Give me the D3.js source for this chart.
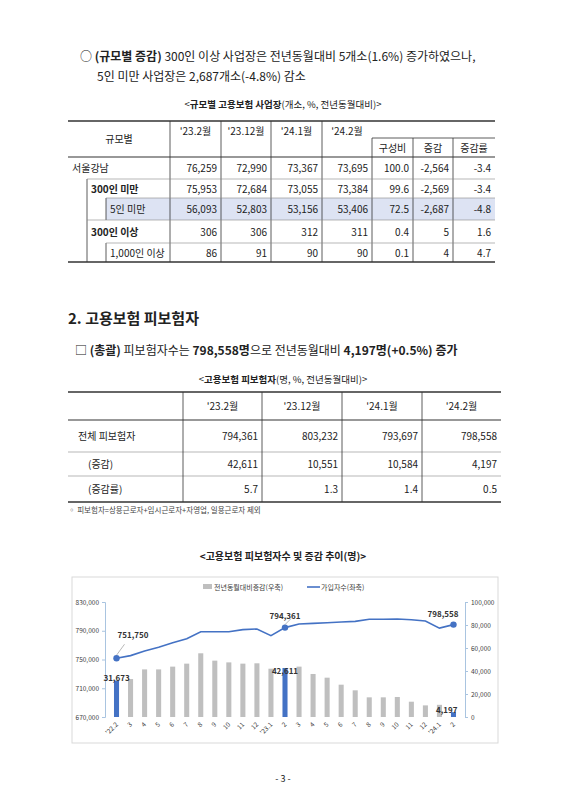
<!DOCTYPE html>
<html><head><meta charset="utf-8">
<script src="https://cdn.jsdelivr.net/npm/d3@7"></script>
<style>body{margin:0;background:#fff}svg{display:block}text{font-family:"Noto Sans CJK KR","Noto Sans",sans-serif}</style>
</head><body><svg id="s" width="566" height="800"></svg>
<script>
// ---- data ----
const t1Cols = ["'23.2월","'23.12월","'24.1월","'24.2월"];
const t1Sub = ["구성비","증감","증감률"];
const t1Rows = ["서울강남","300인 미만","5인 미만","300인 이상","1,000인 이상"];
const t1Vals = [
 ["76,259","72,990","73,367","73,695","100.0","-2,564","-3.4"],
 ["75,953","72,684","73,055","73,384","99.6","-2,569","-3.4"],
 ["56,093","52,803","53,156","53,406","72.5","-2,687","-4.8"],
 ["306","306","312","311","0.4","5","1.6"],
 ["86","91","90","90","0.1","4","4.7"]];
const t2Cols = ["'23.2월","'23.12월","'24.1월","'24.2월"];
const t2Rows = ["전체 피보험자","(증감)","(증감률)"];
const t2Vals = [["794,361","803,232","793,697","798,558"],["42,611","10,551","10,584","4,197"],["5.7","1.3","1.4","0.5"]];
const months = ["'22.2","3","4","5","6","7","8","9","10","11","12","'23.1","2","3","4","5","6","7","8","9","10","11","12","'24.1","2"];
const insured = [751750,755400,761800,767000,773400,779000,788700,788700,788700,791500,792400,783200,794361,799400,800300,801200,802200,803100,805900,805900,806400,805400,803600,793697,798558];
const change = [31673,33000,41400,41400,43800,46400,55400,49000,47500,46400,46700,42000,42611,43800,37400,34200,28100,23200,17100,17100,17400,13300,10100,10584,4197];
const leftTicks = [670000,710000,750000,790000,830000];
const rightTicks = [0,20000,40000,60000,80000,100000];
const highlight = [0,12,24];

const svg = d3.select("#s");
const T = (x,y,s,o={})=>{const e=svg.append("text").attr("x",x).attr("y",y).text(s)
 .attr("font-size",o.fs||10).attr("text-anchor",o.a||"start").attr("fill",o.c||"#222").attr("font-weight",o.w||"normal");return e;};
const L = (x1,y1,x2,y2,w=0.8,c="#333")=>svg.append("line").attr("x1",x1).attr("y1",y1).attr("x2",x2).attr("y2",y2).attr("stroke",c).attr("stroke-width",w);

// intro text
const p1 = svg.append("text").attr("x",80).attr("y",61).attr("font-size",12).attr("fill","#222");
p1.append("tspan").text("○ ");
p1.append("tspan").attr("font-weight","bold").text("(규모별 증감)");
p1.append("tspan").text(" 300인 이상 사업장은 전년동월대비 5개소(1.6%) 증가하였으나,");
T(97,81,"5인 미만 사업장은 2,687개소(-4.8%) 감소",{fs:12});
const tt1 = svg.append("text").attr("x",283).attr("y",108).attr("text-anchor","middle").attr("font-size",9.5).attr("fill","#222");
tt1.append("tspan").text("<");tt1.append("tspan").attr("font-weight","bold").text("규모별 고용보험 사업장");tt1.append("tspan").text("(개소, %, 전년동월대비)>");

// table 1
const c1 = [68,170,221,271,322,372,413,453,495];
const r1 = [157,179,198,220,243,262];
svg.append("rect").attr("x",106).attr("y",r1[2]).attr("width",495-106).attr("height",r1[3]-r1[2]).attr("fill","#dde3f3");
L(68,121,495,121,1.5);L(68,157,495,157,1.2);L(68,262,495,262,1.5);
[1,2,3,4].forEach(i=>L(c1[i],121,c1[i],262));
[5,6,7].forEach(i=>L(c1[i],138,c1[i],262));
L(372,138,495,138);
L(87,179,87,262); L(106,r1[2],106,r1[3]); L(106,r1[4],106,r1[5]);
L(87,179,495,179,0.6,"#888");L(106,198,495,198,0.6,"#888");L(87,220,495,220,0.6,"#888");L(106,243,495,243,0.6,"#888");
T(119,143,"규모별",{fs:10,a:"middle"});
t1Cols.forEach((s,i)=>T((c1[i+1]+c1[i+2])/2,143-8,s,{fs:10,a:"middle"}));
t1Sub.forEach((s,i)=>T((c1[i+5]+c1[i+6])/2,152,s,{fs:10,a:"middle"}));
const rx=[72,91,110,91,110], bold=[false,true,false,true,false];
t1Rows.forEach((s,r)=>{const y=(r1[r]+r1[r+1])/2+4;
 T(rx[r],y,s,{fs:10,w:bold[r]?"bold":"normal"});
 t1Vals[r].forEach((v,j)=>T(c1[j+2]-4,y,v,{fs:10,a:"end"}));});

// section 2
T(68,324,"2. 고용보험 피보험자",{fs:15,w:"bold"});
const p2 = svg.append("text").attr("x",75).attr("y",355).attr("font-size",12).attr("fill","#222");
p2.append("tspan").text("□ ");p2.append("tspan").attr("font-weight","bold").text("(총괄)");
p2.append("tspan").text(" 피보험자수는 ");p2.append("tspan").attr("font-weight","bold").text("798,558명");
p2.append("tspan").text("으로 전년동월대비 ");p2.append("tspan").attr("font-weight","bold").text("4,197명(+0.5%) ");
p2.append("tspan").attr("font-weight","bold").text("증가");
const tt2 = svg.append("text").attr("x",283).attr("y",383).attr("text-anchor","middle").attr("font-size",9.5).attr("fill","#222");
tt2.append("tspan").text("<");tt2.append("tspan").attr("font-weight","bold").text("고용보험 피보험자");tt2.append("tspan").text("(명, %, 전년동월대비)>");
const c2=[68,183,262,342,422,501], r2=[420,452,476,502];
L(68,392,501,392,1.5);L(68,420,501,420,1.2);L(68,502,501,502,1.5);
L(68,452,501,452,0.6,"#888");L(68,476,501,476,0.6,"#888");
[1,2,3,4].forEach(i=>L(c2[i],392,c2[i],502));
t2Cols.forEach((s,i)=>T((c2[i+1]+c2[i+2])/2,410,s,{fs:10,a:"middle"}));
const r2x=[78,88,88];
t2Rows.forEach((s,r)=>{const y=(r2[r]+r2[r+1])/2+4;T(r2x[r],y,s,{fs:10});
 t2Vals[r].forEach((v,j)=>T(c2[j+2]-4,y,v,{fs:10,a:"end"}));});
T(68,513,"◦ 피보험자=상용근로자+임시근로자+자영업, 일용근로자 제외",{fs:7.5,c:"#444"});

// chart
const ct = svg.append("text").attr("x",283).attr("y",560).attr("text-anchor","middle").attr("font-size",10).attr("font-weight","bold").attr("fill","#222");
ct.text("<고용보험 피보험자수 및 증감 추이(명)>");
svg.append("rect").attr("x",72).attr("y",577).attr("width",426).attr("height",166).attr("fill","#fff").attr("stroke","#d9d9d9");
const x = d3.scaleBand().domain(d3.range(months.length)).range([105,465]).padding(0.64);
const yl = d3.scaleLinear().domain([670000,830000]).range([717,602]);
const yr = d3.scaleLinear().domain([0,100000]).range([717,602]);
const axL = svg.append("g").attr("transform","translate(105,0)").call(d3.axisLeft(yl).tickValues(leftTicks).tickSize(3).tickFormat(d3.format(",")));
const axR = svg.append("g").attr("transform","translate(465,0)").call(d3.axisRight(yr).tickValues(rightTicks).tickSize(3).tickFormat(d3.format(",")));
[axL,axR].forEach(a=>{a.selectAll("path,line").attr("stroke","#a9c4e0");a.selectAll("text").attr("font-size",6.5).attr("fill","#404040");});
svg.selectAll(".bar").data(change).join("rect").attr("x",(d,i)=>x(i)).attr("width",x.bandwidth())
 .attr("y",d=>yr(d)).attr("height",d=>yr(0)-yr(d)).attr("fill",(d,i)=>highlight.includes(i)?"#4472c4":"#bfbfbf");
const cx=i=>x(i)+x.bandwidth()/2;
svg.append("path").datum(insured).attr("d",d3.line().x((d,i)=>cx(i)).y(d=>yl(d))).attr("fill","none").attr("stroke","#4472c4").attr("stroke-width",1.6);
highlight.forEach(i=>svg.append("circle").attr("cx",cx(i)).attr("cy",yl(insured[i])).attr("r",3.2).attr("fill","#4472c4"));
months.forEach((m,i)=>T(cx(i)+2,725,m,{fs:6.5,a:"end",c:"#404040"}).attr("transform",`rotate(-45 ${cx(i)+2} 725)`));
const f=d3.format(",");
L(cx(0),yl(insured[0])-3,cx(0)+8,yl(insured[0])-14,0.6,"#888");
T(cx(0)+1,638,f(insured[0]),{fs:8,c:"#333",w:"bold"});
T(cx(0),681,f(change[0]),{fs:8,a:"middle",c:"#333",w:"bold"});
L(cx(12),yl(insured[12])-3,cx(12)+6,yl(insured[12])-9,0.6,"#888");
T(cx(12),619,f(insured[12]),{fs:8,a:"middle",c:"#333",w:"bold"});
T(cx(12),674,f(change[12]),{fs:8,a:"middle",c:"#333",w:"bold"});
T(cx(24)+5,617,f(insured[24]),{fs:8,a:"end",c:"#333",w:"bold"});
T(cx(24)+4,713,f(change[24]),{fs:8,a:"end",c:"#333",w:"bold"});
// legend
svg.append("rect").attr("x",203).attr("y",584).attr("width",9).attr("height",5).attr("fill","#bfbfbf");
T(214,590,"전년동월대비증감(우축)",{fs:7,c:"#404040"});
L(307,587,320,587,1.6,"#4472c4");
T(321,590,"가입자수(좌축)",{fs:7,c:"#404040"});

T(283,782,"- 3 -",{fs:9,a:"middle"});
</script></body></html>
